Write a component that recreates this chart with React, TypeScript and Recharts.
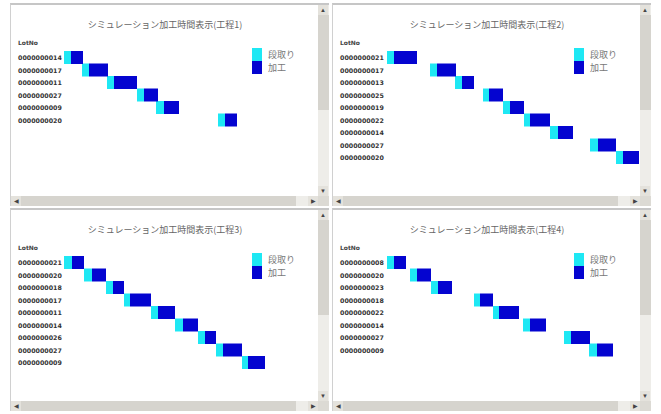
import React from "react";
import { Bar, BarChart, Legend, XAxis, YAxis } from "recharts";

// 工程ごとのロット、開始時刻、段取り時間、加工時間
const LOTS_1 = ["0000000014", "0000000017", "0000000011", "0000000027", "0000000009", "0000000020"];
const START_1 = [0, 18, 43, 73, 92, 154];
const SETUP_1 = [7, 7, 7, 7, 8, 7];
const PROC_1 = [12, 19, 23, 14, 15, 12];

const LOTS_2 = ["0000000021", "0000000017", "0000000013", "0000000025", "0000000019", "0000000022", "0000000014", "0000000027", "0000000020"];
const START_2 = [1, 44, 69, 97, 117, 138, 164, 204, 230];
const SETUP_2 = [7, 7, 7, 6, 7, 6, 8, 8, 7];
const PROC_2 = [23, 19, 12, 14, 14, 20, 15, 18, 16];

const LOTS_3 = ["0000000021", "0000000020", "0000000018", "0000000017", "0000000011", "0000000014", "0000000026", "0000000027", "0000000009"];
const START_3 = [0, 20, 42, 60, 87, 111, 134, 152, 178];
const SETUP_3 = [8, 8, 7, 6, 7, 8, 7, 7, 6];
const PROC_3 = [12, 14, 11, 21, 17, 15, 11, 19, 17];

const LOTS_4 = ["0000000008", "0000000020", "0000000023", "0000000018", "0000000022", "0000000014", "0000000027", "0000000009"];
const START_4 = [1, 24, 45, 88, 107, 137, 178, 203];
const SETUP_4 = [7, 7, 7, 6, 6, 7, 7, 8];
const PROC_4 = [12, 14, 14, 13, 20, 16, 19, 16];

const TITLES = [
  "シミュレーション加工時間表示(工程1)",
  "シミュレーション加工時間表示(工程2)",
  "シミュレーション加工時間表示(工程3)",
  "シミュレーション加工時間表示(工程4)",
];

const LEGEND_ORDER = ["setup", "proc"];

const CYAN = "#1ee8f4";
const BLUE = "#0404d0";
const JP = '"Noto Sans CJK JP", "Noto Sans", sans-serif';
const ROW = 12.5;
const CHART_W = 308;
const CHART_H = 192;

function LotTick({ y, payload }: any) {
  return (
    <text x={7} y={y} dy={3} fontSize={6.3} fontWeight="bold" fill="#333" fontFamily="DejaVu Sans">
      {payload.value}
    </text>
  );
}

function LegendBox({ payload }: any) {
  const items = (payload ?? [])
    .filter((p: any) => p.type !== "none")
    .sort((a: any, b: any) => LEGEND_ORDER.indexOf(a.dataKey) - LEGEND_ORDER.indexOf(b.dataKey));
  return (
    <div>
      {items.map((p: any) => (
        <div key={p.value} style={{ display: "flex", alignItems: "center", height: 13 }}>
          <div style={{ width: 10, height: 13, background: p.color }} />
          <span style={{ marginLeft: 6, fontSize: 9, color: "#777", fontFamily: JP, lineHeight: "13px" }}>
            {p.value}
          </span>
        </div>
      ))}
    </div>
  );
}

function Arrow({ ch, style }: { ch: string; style: React.CSSProperties }) {
  return (
    <div
      style={{
        position: "absolute",
        width: 10,
        height: 10,
        background: "#e4e2dc",
        fontSize: 6,
        lineHeight: "10px",
        textAlign: "center",
        color: "#444",
        ...style,
      }}
    >
      {ch}
    </div>
  );
}

function Panel({
  left,
  top,
  title,
  lots,
  starts,
  setups,
  procs,
}: {
  left: number;
  top: number;
  title: string;
  lots: string[];
  starts: number[];
  setups: number[];
  procs: number[];
}) {
  const data = lots.map((lot, i) => ({ lot, start: starts[i], setup: setups[i], proc: procs[i] }));
  const bottom = CHART_H - 46 - lots.length * ROW;

  return (
    <div
      style={{
        position: "absolute",
        left,
        top,
        width: 319,
        height: 203,
        background: "#fff",
        borderTop: "2px solid #c6c6c6",
        borderLeft: "1px solid #d0d0d0",
        boxSizing: "border-box",
        overflow: "hidden",
      }}
    >
      <div
        style={{
          position: "absolute",
          left: 0,
          width: CHART_W,
          top: 13,
          textAlign: "center",
          fontSize: 9,
          color: "#666",
          fontFamily: JP,
        }}
      >
        {title}
      </div>
      <div
        style={{
          position: "absolute",
          left: 7,
          top: 34,
          fontSize: 6,
          fontWeight: "bold",
          color: "#444",
          fontFamily: "DejaVu Sans",
        }}
      >
        LotNo
      </div>
      <div style={{ position: "absolute", left: 0, top: 0 }}>
        <BarChart
          width={CHART_W}
          height={CHART_H}
          data={data}
          layout="vertical"
          barCategoryGap={0}
          margin={{ top: 46, right: 0, bottom, left: 0 }}
        >
          <XAxis type="number" domain={[0, 255]} hide allowDataOverflow />
          <YAxis
            type="category"
            dataKey="lot"
            width={53}
            tick={<LotTick />}
            axisLine={false}
            tickLine={false}
            interval={0}
          />
          <Legend
            layout="vertical"
            align="center"
            verticalAlign="middle"
            content={<LegendBox />}
            wrapperStyle={{ left: 241, top: 43, width: 60 }}
          />
          <Bar dataKey="start" stackId="t" fill="transparent" legendType="none" isAnimationActive={false} />
          <Bar dataKey="setup" name="段取り" stackId="t" fill={CYAN} isAnimationActive={false} />
          <Bar dataKey="proc" name="加工" stackId="t" fill={BLUE} isAnimationActive={false} />
        </BarChart>
      </div>
      {/* 縦スクロールバー */}
      <div style={{ position: "absolute", left: 307, top: 0, width: 11, height: 191, background: "#eeede9" }}>
        <div style={{ position: "absolute", left: 0, top: 10, width: 11, height: 95, background: "#d6d4ce" }} />
        <Arrow ch="▲" style={{ left: 0, top: 0 }} />
        <Arrow ch="▼" style={{ left: 0, top: 181 }} />
      </div>
      {/* 横スクロールバー */}
      <div style={{ position: "absolute", left: 0, top: 191, width: 307, height: 10, background: "#eeede9" }}>
        <div style={{ position: "absolute", left: 10, top: 0, width: 275, height: 10, background: "#d6d4ce" }} />
        <Arrow ch="◀" style={{ left: 0, top: 0 }} />
        <Arrow ch="▶" style={{ left: 297, top: 0 }} />
      </div>
      <div style={{ position: "absolute", left: 307, top: 191, width: 11, height: 10, background: "#dcdad4" }} />
    </div>
  );
}

export default function App() {
  return (
    <div style={{ position: "absolute", left: 0, top: 0, width: 661, height: 414, background: "#fff" }}>
      <Panel left={10} top={3} title={TITLES[0]} lots={LOTS_1} starts={START_1} setups={SETUP_1} procs={PROC_1} />
      <Panel left={332} top={3} title={TITLES[1]} lots={LOTS_2} starts={START_2} setups={SETUP_2} procs={PROC_2} />
      <Panel left={10} top={208} title={TITLES[2]} lots={LOTS_3} starts={START_3} setups={SETUP_3} procs={PROC_3} />
      <Panel left={332} top={208} title={TITLES[3]} lots={LOTS_4} starts={START_4} setups={SETUP_4} procs={PROC_4} />
    </div>
  );
}
